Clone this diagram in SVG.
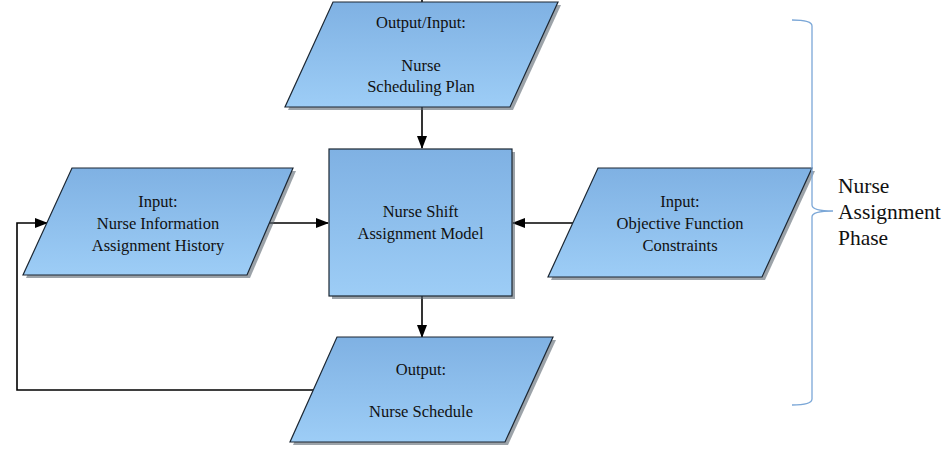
<svg xmlns="http://www.w3.org/2000/svg" width="948" height="450" viewBox="0 0 948 450">
<style>
.shape{fill:url(#g);stroke:#1c2733;stroke-width:1.2}
.shadow{fill:#5a6570;opacity:0.6}
.t{font-family:"Liberation Serif","Times New Roman",serif;font-size:16.5px;fill:#111;text-anchor:middle}
.lbl{font-family:"Liberation Serif","Times New Roman",serif;font-size:21.5px;fill:#111}
.c{fill:none;stroke:#000;stroke-width:1.6}
</style>
<defs>
<linearGradient id="g" x1="0" y1="0" x2="0" y2="1">
<stop offset="0" stop-color="#7fb1e3"/>
<stop offset="1" stop-color="#9dcdf6"/>
</linearGradient>
<marker id="ah" markerWidth="13" markerHeight="10" refX="12" refY="5" orient="auto" markerUnits="userSpaceOnUse">
<path d="M0,0 L13,5 L0,10 Z" fill="#000"/>
</marker>
</defs>
<g id="connectors">
<line class="c" x1="422" y1="0" x2="422" y2="3"/>
<line class="c" x1="422" y1="107" x2="422" y2="148" marker-end="url(#ah)"/>
<line class="c" x1="268" y1="223" x2="328" y2="223" marker-end="url(#ah)"/>
<line class="c" x1="573" y1="223" x2="513" y2="223" marker-end="url(#ah)"/>
<line class="c" x1="422" y1="296" x2="422" y2="337" marker-end="url(#ah)"/>
<polyline class="c" points="313,390 17,390 17,223 47,223" marker-end="url(#ah)"/>
</g>
<g id="node-top">
<polygon class="shadow" points="336,5 561,5 513,110 288,110"/>
<polygon class="shape" points="333,2 558,2 510,107 285,107"/>
<text class="t" x="421" y="28">Output/Input:</text>
<text class="t" x="421" y="71">Nurse</text>
<text class="t" x="421" y="92">Scheduling Plan</text>
</g>
<g id="node-model">
<rect class="shadow" x="332" y="152" width="183" height="147"/>
<rect class="shape" x="329" y="149" width="183" height="147"/>
<text class="t" x="420.5" y="217">Nurse Shift</text>
<text class="t" x="420.5" y="239">Assignment Model</text>
</g>
<g id="node-left">
<polygon class="shadow" points="75,171 296,171 250,278 26,278"/>
<polygon class="shape" points="72,168 293,168 247,275 23,275"/>
<text class="t" x="158" y="207">Input:</text>
<text class="t" x="158" y="229">Nurse Information</text>
<text class="t" x="158" y="251">Assignment History</text>
</g>
<g id="node-right">
<polygon class="shadow" points="601,171 815,171 765,280 551,280"/>
<polygon class="shape" points="598,168 812,168 762,277 548,277"/>
<text class="t" x="680" y="207">Input:</text>
<text class="t" x="680" y="229">Objective Function</text>
<text class="t" x="680" y="251">Constraints</text>
</g>
<g id="node-bottom">
<polygon class="shadow" points="340,340 556,340 508,445 293,445"/>
<polygon class="shape" points="337,337 553,337 505,442 290,442"/>
<text class="t" x="421" y="375">Output:</text>
<text class="t" x="421" y="417">Nurse Schedule</text>
</g>
<g id="phase">
<path d="M792,20 Q812,20 812,26 L812,205 Q812,211 833,211 Q812,211 812,217 L812,399 Q812,405 792,405" fill="none" stroke="#7ba7d7" stroke-width="1.3"/>
<text class="lbl" x="838" y="193">Nurse</text>
<text class="lbl" x="838" y="219">Assignment</text>
<text class="lbl" x="838" y="245">Phase</text>
</g>
</svg>
